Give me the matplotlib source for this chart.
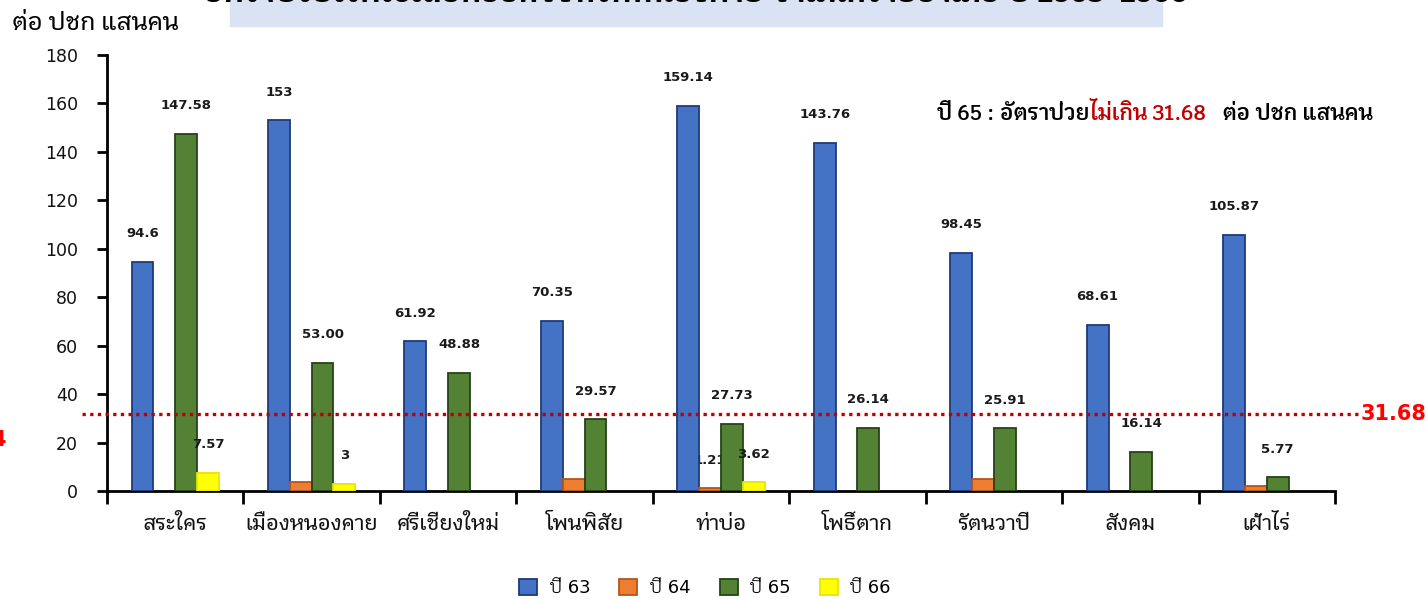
import numpy as np
import matplotlib
matplotlib.use("Agg")
import matplotlib.pyplot as plt
from matplotlib.patches import Patch, Rectangle

# Données : taux par 100 000 habitants, par district
districts = ["สระใคร", "เมืองหนองคาย", "ศรีเชียงใหม่", "โพนพิสัย", "ท่าบ่อ",
             "โพธิ์ตาก", "รัตนวาปี", "สังคม", "เฝ้าไร่"]
series_names = ["ปี 63", "ปี 64", "ปี 65", "ปี 66"]

val_63 = [94.6, 153, 61.92, 70.35, 159.14, 143.76, 98.45, 68.61, 105.87]
val_64 = [0, 3.7, 0, 5.0, 1.21, 0, 5.0, 0, 2.2]
val_65 = [147.58, 53.00, 48.88, 29.57, 27.73, 26.14, 25.91, 16.14, 5.77]
val_66 = [7.57, 3, 0, 0, 3.62, 0, 0, 0, 0]

# étiquettes affichées (None = pas d'étiquette)
lab_63 = ["94.6", "153", "61.92", "70.35", "159.14", "143.76", "98.45", "68.61", "105.87"]
lab_64 = [None, None, None, None, "1.21", None, None, None, None]
lab_65 = ["147.58", "53.00", "48.88", "29.57", "27.73", "26.14", "25.91", "16.14", "5.77"]
lab_66 = ["7.57", "3", None, None, "3.62", None, None, None, None]

target = 31.68
yticks = [0, 20, 40, 60, 80, 100, 120, 140, 160, 180]

colors = ["#4472C4", "#ED7D31", "#548235", "#FFFF00"]
edges = ["#1F3A78", "#B2561A", "#26421A", "#E6E600"]

thai = ["Krub", "DejaVu Sans"]
num = ["DejaVu Sans", "Krub"]

fig = plt.figure(figsize=(14.26, 5.99), dpi=100)
ax = fig.add_axes([107 / 1426, 108 / 599, 1228 / 1426, 436 / 599])

x = np.arange(len(districts))
w = 0.16
offsets = [-0.24, -0.08, 0.08, 0.24]
values = [val_63, val_64, val_65, val_66]
labels = [lab_63, lab_64, lab_65, lab_66]

for k in range(4):
    v = np.array(values[k], dtype=float)
    keep = v > 0  # pas de barre pour les zéros
    ax.bar(x[keep] + offsets[k], v[keep], w, color=colors[k], edgecolor=edges[k],
           linewidth=1.3, zorder=3)
    for xi, vi, lab in zip(x, v, labels[k]):
        if lab is None:
            continue
        ax.annotate(lab, (xi + offsets[k], vi),
                    xytext=(0, 28), textcoords="offset pixels", ha="center", va="center",
                    fontsize=9.5, fontweight="bold", color="#1a1a1a", family=num,
                    zorder=2 if k == 1 else 4)

# seuil ปี 65
ax.plot([-0.68, 8.67], [target, target], color="#C00000", lw=2.4,
        linestyle=(0, (1, 1.3)), clip_on=False, zorder=5)
ax.text(8.69, target, "31.68", color="#FF0000", fontsize=15, fontweight="bold",
        family=num, va="center", ha="left", clip_on=False)

# axes
ax.set_xlim(-0.5, 8.5)
ax.set_ylim(0, 180)
ax.set_yticks(yticks)
ax.set_yticklabels([str(t) for t in yticks], family=num, fontsize=12.5, color="#111111")
ax.set_xticks(x)
ax.set_xticklabels(districts, family=thai, fontsize=15, fontweight="medium", color="#111111")
ax.set_xticks(np.arange(-0.5, 9.0, 1.0), minor=True)
ax.tick_params(axis="x", which="major", length=0, pad=16)
ax.tick_params(axis="x", which="minor", length=9, width=2)
ax.tick_params(axis="y", length=7, width=2, pad=14)
for s in ["top", "right"]:
    ax.spines[s].set_visible(False)
for s in ["left", "bottom"]:
    ax.spines[s].set_linewidth(2)

# titre (coupé en haut) et textes
fig.patches.append(Rectangle((230 / 1426, 1 - 26 / 599), 932 / 1426, 26 / 599,
                             transform=fig.transFigure, color="#DAE3F3", zorder=0))
fig.text(696 / 1426, 1 - 1.5 / 599, "อัตราป่วยโรคไข้เลือดออกจังหวัดหนองคาย จำแนกรายอำเภอ ปี 2563-2566",
         family=thai, fontsize=22, fontweight="bold", ha="center", va="baseline")
fig.text(12 / 1426, 1 - 22 / 599, "ต่อ ปชก แสนคน", family=thai, fontsize=17.5,
         fontweight="medium", ha="left", va="center")
fig.text(6 / 1426, 1 - 440 / 599, "4", color="#FF0000", fontsize=15, fontweight="bold",
         family=num, ha="right", va="center")

t1 = fig.text(937 / 1426, 1 - 114 / 599, "ปี 65 : อัตราป่วย", family=thai, fontsize=15.5,
              fontweight="semibold", ha="left", va="center")
t2 = ax.annotate("ไม่เกิน 31.68", xy=(1, 0), xycoords=t1, family=thai, fontsize=15.5,
                 fontweight="semibold", color="#C00000", ha="left", va="bottom")
ax.annotate("   ต่อ ปชก แสนคน", xy=(1, 0), xycoords=t2, family=thai, fontsize=15.5,
            fontweight="semibold", ha="left", va="bottom")

# légende
handles = [Patch(facecolor=c, edgecolor=e, linewidth=1.3) for c, e in zip(colors, edges)]
fig.legend(handles, series_names, ncol=4, loc="center", bbox_to_anchor=(705 / 1426, 11 / 599),
           frameon=False, handlelength=1.0, handleheight=1.0, handletextpad=0.7,
           columnspacing=1.6, prop={"family": num, "size": 13})

fig.savefig("out.png")
